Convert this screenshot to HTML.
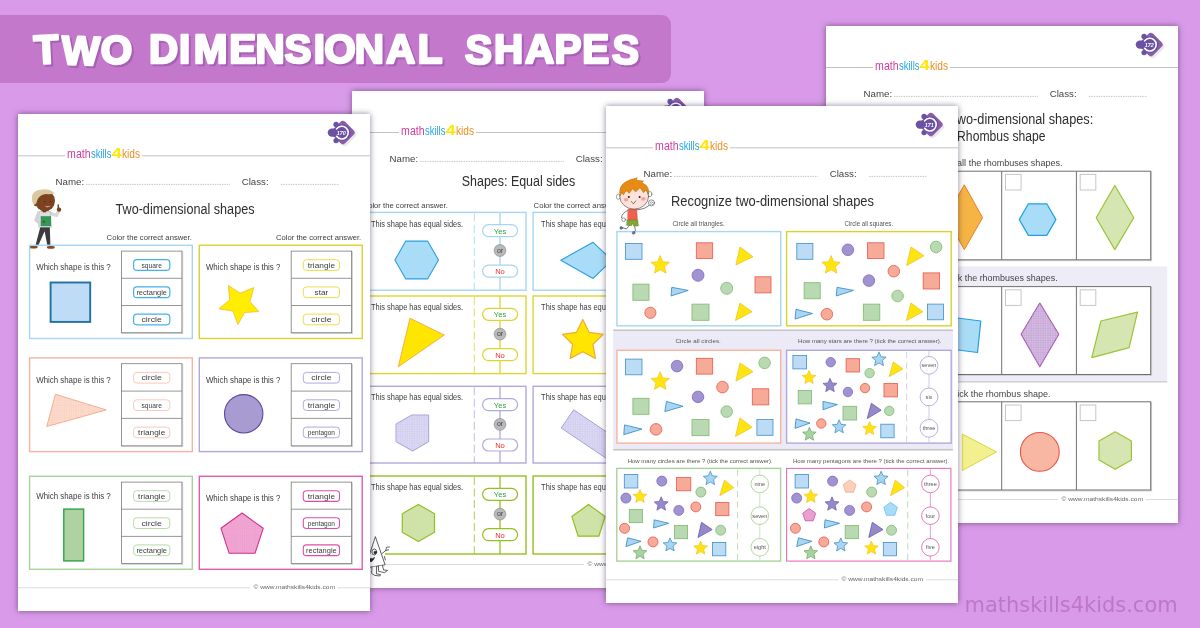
<!DOCTYPE html><html lang="en"><head><meta charset="utf-8"><title>Two Dimensional Shapes</title><style>
html,body{margin:0;padding:0}body{width:1200px;height:628px;overflow:hidden;position:relative;background:#d99be9;font-family:'Liberation Sans', sans-serif}.ban{position:absolute;left:0;top:14.5px;width:671px;height:68px;background:#c478cc;border-radius:0 9px 9px 0}.ttl{position:absolute;left:0;top:0;z-index:6}.pg{position:absolute;width:352px;height:497.3px;background:#fff;overflow:hidden;box-shadow:0 0 6px rgba(35,5,45,.5)}.pg svg{display:block}.wm{position:absolute;left:0;top:0;z-index:7}
</style></head><body>
<svg width="0" height="0" style="position:absolute"><defs>
<pattern id="dotw" width="2.4" height="2.4" patternUnits="userSpaceOnUse"><circle cx=".7" cy=".7" r=".42" fill="#fff" opacity=".8"/></pattern>
<pattern id="dotp" width="2.2" height="2.2" patternUnits="userSpaceOnUse"><circle cx=".6" cy=".6" r=".32" fill="#c8409a" opacity=".55"/></pattern>
</defs></svg>
<div class="ban"></div>
<svg class="ttl" width="700" height="100" viewBox="0 0 700 100" font-family="'Liberation Sans', sans-serif" font-weight="bold" font-size="40.5" stroke-linejoin="round" stroke-linecap="round" text-anchor="middle"><g fill="#fff" stroke="#fff" stroke-width="2.4" style="filter:drop-shadow(2.7px 2.4px 0 #a660b4)"><text x="47.2 80.4 116.4" y="64.1 64.1 64.1" rotate="-3 2 0">TWO</text><text x="163.7 184.7 210.7 242.7 270 298 319.3 340 369.3 400.7 430" y="62.6 62.6 62.6 62.6 62.6 62.6 62.6 62.6 62.6 62.6 62.6" rotate="0 0 0 0 0 0 0 0 0 0 0">DIMENSIONAL</text><text x="478 508.7 539.5 568 595.7 625" y="63.1 63.1 63.1 63.1 63.1 63.1" rotate="3 0 0 0 0 3">SHAPES</text></g></svg>
<div class="pg" style="left:352px;top:91px;z-index:1"><svg width="352" height="497" viewBox="352 91 352 497" font-family="'Liberation Sans', sans-serif"><line x1="352" y1="132.5" x2="399" y2="132.5" stroke="#c2c2c2" stroke-width="1"/><line x1="476" y1="132.5" x2="704" y2="132.5" stroke="#c2c2c2" stroke-width="1"/><text x="401.1" y="135" font-size="13" fill="#d43c9f" textLength="23.5" lengthAdjust="spacingAndGlyphs">math</text><text x="424.9" y="135" font-size="13" fill="#27a6e6" textLength="20.6" lengthAdjust="spacingAndGlyphs">skills</text><text x="445.7" y="135" font-size="14" fill="#ffe600" textLength="9.8" lengthAdjust="spacingAndGlyphs" font-weight="bold">4</text><text x="455.9" y="135" font-size="13" fill="#ea8f22" textLength="18.1" lengthAdjust="spacingAndGlyphs">kids</text><g><rect x="669.3" y="102.2" width="18.4" height="18.4" rx="3.2" fill="#666" opacity=".15" transform="rotate(45 678.5 111.4)"/><rect x="667.7" y="100.4" width="18.4" height="18.4" rx="3.2" fill="#8b5caa" transform="rotate(45 676.9 109.6)"/><circle cx="676.3" cy="109.6" r="8.2" fill="#6a51a3"/><rect x="661.7" y="105.4" width="15" height="8.4" rx="4.2" fill="#6a51a3"/><circle cx="670.1" cy="101.4" r="2.7" fill="#6a51a3"/><circle cx="670.1" cy="117.6" r="2.7" fill="#6a51a3"/><path d="M670.6 105.9 A6.4 6.4 0 1 1 670.6 113.3" fill="none" stroke="#fff" stroke-width="1.6" stroke-linecap="round"/><text x="675.3" y="111.7" font-size="5.4" fill="#fff" font-style="italic" font-weight="bold" text-anchor="middle">171</text></g><text x="389.6" y="161.8" font-size="9" fill="#444" textLength="28.6" lengthAdjust="spacingAndGlyphs">Name:</text><line x1="420" y1="161.4" x2="564" y2="161.4" stroke="#8a8a8a" stroke-width="0.7" stroke-dasharray="0.7 1"/><text x="575.7" y="161.8" font-size="9" fill="#444" textLength="27" lengthAdjust="spacingAndGlyphs">Class:</text><line x1="615" y1="161.4" x2="673" y2="161.4" stroke="#8a8a8a" stroke-width="0.7" stroke-dasharray="0.7 1"/><text x="518.5" y="186.4" font-size="15.2" fill="#2e2e2e" text-anchor="middle" textLength="113.5" lengthAdjust="spacingAndGlyphs">Shapes: Equal sides</text><text x="362.6" y="207.5" font-size="7.5" fill="#3c3c3c" textLength="85.2" lengthAdjust="spacingAndGlyphs">Color the correct answer.</text><text x="533.6" y="207.5" font-size="7.5" fill="#3c3c3c" textLength="85.2" lengthAdjust="spacingAndGlyphs">Color the correct answer.</text><rect x="363" y="212.4" width="163" height="77.8" fill="none" stroke="#a5d6f2" stroke-width="1.4"/><text x="371" y="226.5" font-size="8.6" fill="#3c3c3c" textLength="92" lengthAdjust="spacingAndGlyphs">This shape has equal sides.</text><line x1="474.3" y1="213.4" x2="474.3" y2="290.2" stroke="#a5d6f2" stroke-width="0.8" stroke-dasharray="8 3.5"/><line x1="500" y1="212.4" x2="500" y2="290.2" stroke="#a5d6f2" stroke-width="1.3"/><rect x="482.6" y="224.7" width="35" height="12" fill="#fff" stroke="#a5d6f2" stroke-width="1.2" rx="6"/><text x="500" y="233.6" font-size="7.6" fill="#2f9e3f" text-anchor="middle">Yes</text><rect x="482.6" y="265.1" width="35" height="12" fill="#fff" stroke="#a5d6f2" stroke-width="1.2" rx="6"/><text x="500" y="274" font-size="7.6" fill="#e8302e" text-anchor="middle">No</text><circle cx="500" cy="250.5" r="5.9" fill="#b9b9b9" stroke="#8e8e8e" stroke-width="0.7"/><text x="500" y="252.5" font-size="7" fill="#444" text-anchor="middle">or</text><rect x="533.1" y="212.4" width="163.3" height="77.8" fill="none" stroke="#a5d6f2" stroke-width="1.4"/><text x="541.1" y="226.5" font-size="8.6" fill="#3c3c3c" textLength="92" lengthAdjust="spacingAndGlyphs">This shape has equal sides.</text><line x1="644.4" y1="213.4" x2="644.4" y2="290.2" stroke="#a5d6f2" stroke-width="0.8" stroke-dasharray="8 3.5"/><line x1="670.1" y1="212.4" x2="670.1" y2="290.2" stroke="#a5d6f2" stroke-width="1.3"/><rect x="652.7" y="224.7" width="35" height="12" fill="#fff" stroke="#a5d6f2" stroke-width="1.2" rx="6"/><text x="670.1" y="233.6" font-size="7.6" fill="#2f9e3f" text-anchor="middle">Yes</text><rect x="652.7" y="265.1" width="35" height="12" fill="#fff" stroke="#a5d6f2" stroke-width="1.2" rx="6"/><text x="670.1" y="274" font-size="7.6" fill="#e8302e" text-anchor="middle">No</text><circle cx="670.1" cy="250.5" r="5.9" fill="#b9b9b9" stroke="#8e8e8e" stroke-width="0.7"/><text x="670.1" y="252.5" font-size="7" fill="#444" text-anchor="middle">or</text><rect x="363" y="296" width="163" height="77.6" fill="none" stroke="#dcd630" stroke-width="1.4"/><text x="371" y="310.1" font-size="8.6" fill="#3c3c3c" textLength="92" lengthAdjust="spacingAndGlyphs">This shape has equal sides.</text><line x1="474.3" y1="297" x2="474.3" y2="373.6" stroke="#dcd630" stroke-width="0.8" stroke-dasharray="8 3.5"/><line x1="500" y1="296" x2="500" y2="373.6" stroke="#dcd630" stroke-width="1.3"/><rect x="482.6" y="308.3" width="35" height="12" fill="#fff" stroke="#dcd630" stroke-width="1.2" rx="6"/><text x="500" y="317.2" font-size="7.6" fill="#2f9e3f" text-anchor="middle">Yes</text><rect x="482.6" y="348.7" width="35" height="12" fill="#fff" stroke="#dcd630" stroke-width="1.2" rx="6"/><text x="500" y="357.6" font-size="7.6" fill="#e8302e" text-anchor="middle">No</text><circle cx="500" cy="334.1" r="5.9" fill="#b9b9b9" stroke="#8e8e8e" stroke-width="0.7"/><text x="500" y="336.1" font-size="7" fill="#444" text-anchor="middle">or</text><rect x="533.1" y="296" width="163.3" height="77.6" fill="none" stroke="#dcd630" stroke-width="1.4"/><text x="541.1" y="310.1" font-size="8.6" fill="#3c3c3c" textLength="92" lengthAdjust="spacingAndGlyphs">This shape has equal sides.</text><line x1="644.4" y1="297" x2="644.4" y2="373.6" stroke="#dcd630" stroke-width="0.8" stroke-dasharray="8 3.5"/><line x1="670.1" y1="296" x2="670.1" y2="373.6" stroke="#dcd630" stroke-width="1.3"/><rect x="652.7" y="308.3" width="35" height="12" fill="#fff" stroke="#dcd630" stroke-width="1.2" rx="6"/><text x="670.1" y="317.2" font-size="7.6" fill="#2f9e3f" text-anchor="middle">Yes</text><rect x="652.7" y="348.7" width="35" height="12" fill="#fff" stroke="#dcd630" stroke-width="1.2" rx="6"/><text x="670.1" y="357.6" font-size="7.6" fill="#e8302e" text-anchor="middle">No</text><circle cx="670.1" cy="334.1" r="5.9" fill="#b9b9b9" stroke="#8e8e8e" stroke-width="0.7"/><text x="670.1" y="336.1" font-size="7" fill="#444" text-anchor="middle">or</text><rect x="363" y="386.3" width="163" height="76.7" fill="none" stroke="#b0a9de" stroke-width="1.4"/><text x="371" y="400.4" font-size="8.6" fill="#3c3c3c" textLength="92" lengthAdjust="spacingAndGlyphs">This shape has equal sides.</text><line x1="474.3" y1="387.3" x2="474.3" y2="463" stroke="#b0a9de" stroke-width="0.8" stroke-dasharray="8 3.5"/><line x1="500" y1="386.3" x2="500" y2="463" stroke="#b0a9de" stroke-width="1.3"/><rect x="482.6" y="398.6" width="35" height="12" fill="#fff" stroke="#b0a9de" stroke-width="1.2" rx="6"/><text x="500" y="407.5" font-size="7.6" fill="#2f9e3f" text-anchor="middle">Yes</text><rect x="482.6" y="439" width="35" height="12" fill="#fff" stroke="#b0a9de" stroke-width="1.2" rx="6"/><text x="500" y="447.9" font-size="7.6" fill="#e8302e" text-anchor="middle">No</text><circle cx="500" cy="424.4" r="5.9" fill="#b9b9b9" stroke="#8e8e8e" stroke-width="0.7"/><text x="500" y="426.4" font-size="7" fill="#444" text-anchor="middle">or</text><rect x="533.1" y="386.3" width="163.3" height="76.7" fill="none" stroke="#b0a9de" stroke-width="1.4"/><text x="541.1" y="400.4" font-size="8.6" fill="#3c3c3c" textLength="92" lengthAdjust="spacingAndGlyphs">This shape has equal sides.</text><line x1="644.4" y1="387.3" x2="644.4" y2="463" stroke="#b0a9de" stroke-width="0.8" stroke-dasharray="8 3.5"/><line x1="670.1" y1="386.3" x2="670.1" y2="463" stroke="#b0a9de" stroke-width="1.3"/><rect x="652.7" y="398.6" width="35" height="12" fill="#fff" stroke="#b0a9de" stroke-width="1.2" rx="6"/><text x="670.1" y="407.5" font-size="7.6" fill="#2f9e3f" text-anchor="middle">Yes</text><rect x="652.7" y="439" width="35" height="12" fill="#fff" stroke="#b0a9de" stroke-width="1.2" rx="6"/><text x="670.1" y="447.9" font-size="7.6" fill="#e8302e" text-anchor="middle">No</text><circle cx="670.1" cy="424.4" r="5.9" fill="#b9b9b9" stroke="#8e8e8e" stroke-width="0.7"/><text x="670.1" y="426.4" font-size="7" fill="#444" text-anchor="middle">or</text><rect x="363" y="476" width="163" height="78" fill="none" stroke="#94c11f" stroke-width="1.4"/><text x="371" y="490.1" font-size="8.6" fill="#3c3c3c" textLength="92" lengthAdjust="spacingAndGlyphs">This shape has equal sides.</text><line x1="474.3" y1="477" x2="474.3" y2="554" stroke="#94c11f" stroke-width="0.8" stroke-dasharray="8 3.5"/><line x1="500" y1="476" x2="500" y2="554" stroke="#94c11f" stroke-width="1.3"/><rect x="482.6" y="488.3" width="35" height="12" fill="#fff" stroke="#94c11f" stroke-width="1.2" rx="6"/><text x="500" y="497.2" font-size="7.6" fill="#2f9e3f" text-anchor="middle">Yes</text><rect x="482.6" y="528.7" width="35" height="12" fill="#fff" stroke="#94c11f" stroke-width="1.2" rx="6"/><text x="500" y="537.6" font-size="7.6" fill="#e8302e" text-anchor="middle">No</text><circle cx="500" cy="514.1" r="5.9" fill="#b9b9b9" stroke="#8e8e8e" stroke-width="0.7"/><text x="500" y="516.1" font-size="7" fill="#444" text-anchor="middle">or</text><rect x="533.1" y="476" width="163.3" height="78" fill="none" stroke="#94c11f" stroke-width="1.4"/><text x="541.1" y="490.1" font-size="8.6" fill="#3c3c3c" textLength="92" lengthAdjust="spacingAndGlyphs">This shape has equal sides.</text><line x1="644.4" y1="477" x2="644.4" y2="554" stroke="#94c11f" stroke-width="0.8" stroke-dasharray="8 3.5"/><line x1="670.1" y1="476" x2="670.1" y2="554" stroke="#94c11f" stroke-width="1.3"/><rect x="652.7" y="488.3" width="35" height="12" fill="#fff" stroke="#94c11f" stroke-width="1.2" rx="6"/><text x="670.1" y="497.2" font-size="7.6" fill="#2f9e3f" text-anchor="middle">Yes</text><rect x="652.7" y="528.7" width="35" height="12" fill="#fff" stroke="#94c11f" stroke-width="1.2" rx="6"/><text x="670.1" y="537.6" font-size="7.6" fill="#e8302e" text-anchor="middle">No</text><circle cx="670.1" cy="514.1" r="5.9" fill="#b9b9b9" stroke="#8e8e8e" stroke-width="0.7"/><text x="670.1" y="516.1" font-size="7" fill="#444" text-anchor="middle">or</text><polygon points="438.5,260 427.6,278.9 405.8,278.9 394.9,260 405.8,241.1 427.6,241.1" fill="#a9dcf7" stroke="#2b9fe0" stroke-width="1.1" stroke-linejoin="round"/><polygon points="560.8,260.2 593.1,242.3 612,260.2 593.1,278.4" fill="#a9dcf7" stroke="#2b9fe0" stroke-width="1.1" stroke-linejoin="round"/><polygon points="410,318.3 444.3,335 398.3,366.7" fill="#ffe600" stroke="#f2a93a" stroke-width="0.9" stroke-linejoin="round"/><polygon points="582.8,319.5 589.1,332.3 603.2,334.4 593,344.3 595.4,358.4 582.8,351.8 570.2,358.4 572.6,344.3 562.4,334.4 576.5,332.3" fill="#ffe600" stroke="#f2a93a" stroke-width="1.2" stroke-linejoin="round"/><polygon points="411.7,415 428.7,415 428.7,441.7 412.7,451 396,441.7 396,424" fill="#d3cff0" stroke="#9d94d4" stroke-width="0.9" stroke-linejoin="round"/><polygon points="411.7,415 428.7,415 428.7,441.7 412.7,451 396,441.7 396,424" fill="url(#dotw)" stroke="none" stroke-width="0" stroke-linejoin="round"/><polygon points="573.7,409.8 621.8,442.2 609.3,460.4 561.2,428" fill="#d3cff0" stroke="#9d94d4" stroke-width="0.9" stroke-linejoin="round"/><polygon points="573.7,409.8 621.8,442.2 609.3,460.4 561.2,428" fill="url(#dotw)" stroke="none" stroke-width="0" stroke-linejoin="round"/><polygon points="418.4,504.4 434.5,513.7 434.5,532.3 418.4,541.6 402.3,532.3 402.3,513.7" fill="#cfe3a9" stroke="#8fc01f" stroke-width="1.2" stroke-linejoin="round"/><polygon points="588.5,504.5 605.1,516.6 598.8,536.2 578.2,536.2 571.9,516.6" fill="#cfe3a9" stroke="#8fc01f" stroke-width="1.2" stroke-linejoin="round"/><line x1="352" y1="564.5" x2="584" y2="564.5" stroke="#dcdcdc" stroke-width="1"/><line x1="672" y1="564.5" x2="704" y2="564.5" stroke="#dcdcdc" stroke-width="1"/><text x="587.5" y="565.9" font-size="6" fill="#666" textLength="81.5" lengthAdjust="spacingAndGlyphs">© www.mathskills4kids.com</text><rect x="364" y="548" width="21" height="22" fill="#fff"/><g fill="#fff" stroke="#2b2b2b" stroke-width=".75" stroke-linejoin="round" stroke-linecap="round"><path d="M375.5 537 L385.1 564.8 L365.5 568 Z"/><ellipse cx="374.3" cy="552" rx="2.4" ry="3"/><ellipse cx="375" cy="552.6" rx="1" ry="1.4" fill="#2b2b2b"/><path d="M370 558.5 Q372.5 559.5 374.5 557.5 Q372.5 562.5 370 561.5 Z" fill="#2b2b2b"/><path d="M382.2 553.4 L385.6 550.6 L388.6 549.8 M385.6 550.6 L386.6 547.2 L389.4 547 M384.4 556.4 L385.4 560" fill="none"/><path d="M372 567 L371.6 573.4 L374.8 575.4 L379.8 576 L380.6 574.6 L376.4 573.8 L376.6 566.4" /><path d="M378.4 566 L378.6 571.4 L384.6 572.6 L387.6 570.4 L383.6 570 L382.4 565.4"/></g></svg></div>
<div class="pg" style="left:826.2px;top:26px;z-index:2"><svg width="352" height="497" viewBox="826.2 26 352 497" font-family="'Liberation Sans', sans-serif"><line x1="826.2" y1="67.5" x2="873.2" y2="67.5" stroke="#c2c2c2" stroke-width="1"/><line x1="950.2" y1="67.5" x2="1178.2" y2="67.5" stroke="#c2c2c2" stroke-width="1"/><text x="875.3" y="70" font-size="13" fill="#d43c9f" textLength="23.5" lengthAdjust="spacingAndGlyphs">math</text><text x="899.1" y="70" font-size="13" fill="#27a6e6" textLength="20.6" lengthAdjust="spacingAndGlyphs">skills</text><text x="919.9" y="70" font-size="14" fill="#ffe600" textLength="9.8" lengthAdjust="spacingAndGlyphs" font-weight="bold">4</text><text x="930.1" y="70" font-size="13" fill="#ea8f22" textLength="18.1" lengthAdjust="spacingAndGlyphs">kids</text><g><rect x="1143.5" y="37.2" width="18.4" height="18.4" rx="3.2" fill="#666" opacity=".15" transform="rotate(45 1152.7 46.4)"/><rect x="1141.9" y="35.4" width="18.4" height="18.4" rx="3.2" fill="#8b5caa" transform="rotate(45 1151.1 44.6)"/><circle cx="1150.5" cy="44.6" r="8.2" fill="#6a51a3"/><rect x="1135.9" y="40.4" width="15" height="8.4" rx="4.2" fill="#6a51a3"/><circle cx="1144.3" cy="36.4" r="2.7" fill="#6a51a3"/><circle cx="1144.3" cy="52.6" r="2.7" fill="#6a51a3"/><path d="M1144.8 40.9 A6.4 6.4 0 1 1 1144.8 48.3" fill="none" stroke="#fff" stroke-width="1.6" stroke-linecap="round"/><text x="1149.5" y="46.7" font-size="5.4" fill="#fff" font-style="italic" font-weight="bold" text-anchor="middle">172</text></g><text x="863.8" y="96.8" font-size="9" fill="#444" textLength="28.6" lengthAdjust="spacingAndGlyphs">Name:</text><line x1="894.2" y1="96.4" x2="1038.2" y2="96.4" stroke="#8a8a8a" stroke-width="0.7" stroke-dasharray="0.7 1"/><text x="1049.9" y="96.8" font-size="9" fill="#444" textLength="27" lengthAdjust="spacingAndGlyphs">Class:</text><line x1="1089.2" y1="96.4" x2="1147.2" y2="96.4" stroke="#8a8a8a" stroke-width="0.7" stroke-dasharray="0.7 1"/><text x="950" y="123.8" font-size="15.2" fill="#2e2e2e" textLength="143.4" lengthAdjust="spacingAndGlyphs">Two-dimensional shapes:</text><text x="957.3" y="141.4" font-size="15.2" fill="#2e2e2e" textLength="88.5" lengthAdjust="spacingAndGlyphs">Rhombus shape</text><text x="928.7" y="166.1" font-size="9" fill="#444" textLength="134" lengthAdjust="spacingAndGlyphs">1. Tick all the rhombuses shapes.</text><rect x="838" y="266.4" width="329.5" height="115.5" fill="#eeecf6" stroke="none" stroke-width="1"/><line x1="838" y1="381.9" x2="1167.5" y2="381.9" stroke="#c9c9c9" stroke-width="1.4"/><text x="936.6" y="281" font-size="9" fill="#444" textLength="121.3" lengthAdjust="spacingAndGlyphs">2. Tick the rhombuses shapes.</text><text x="942.4" y="396.6" font-size="9" fill="#444" textLength="108.3" lengthAdjust="spacingAndGlyphs">3. Tick the rhombus shape.</text><rect x="853.8" y="172.1" width="298" height="88.6" fill="none" stroke="#d0d0d0" stroke-width="1"/><rect x="852.9" y="171.2" width="298" height="88.6" fill="#fff" stroke="#707070" stroke-width="1"/><line x1="927.4" y1="171.2" x2="927.4" y2="259.8" stroke="#707070" stroke-width="1"/><line x1="1001.9" y1="171.2" x2="1001.9" y2="259.8" stroke="#707070" stroke-width="1"/><line x1="1076.6" y1="171.2" x2="1076.6" y2="259.8" stroke="#707070" stroke-width="1"/><rect x="856.7" y="174.4" width="15.6" height="15.6" fill="#fff" stroke="#c6c6c6" stroke-width="1"/><rect x="931.2" y="174.4" width="15.6" height="15.6" fill="#fff" stroke="#c6c6c6" stroke-width="1"/><rect x="1005.7" y="174.4" width="15.6" height="15.6" fill="#fff" stroke="#c6c6c6" stroke-width="1"/><rect x="1080.4" y="174.4" width="15.6" height="15.6" fill="#fff" stroke="#c6c6c6" stroke-width="1"/><rect x="853.8" y="287.5" width="298" height="87.9" fill="none" stroke="#d0d0d0" stroke-width="1"/><rect x="852.9" y="286.6" width="298" height="87.9" fill="#fff" stroke="#707070" stroke-width="1"/><line x1="927.4" y1="286.6" x2="927.4" y2="374.5" stroke="#707070" stroke-width="1"/><line x1="1001.9" y1="286.6" x2="1001.9" y2="374.5" stroke="#707070" stroke-width="1"/><line x1="1076.6" y1="286.6" x2="1076.6" y2="374.5" stroke="#707070" stroke-width="1"/><rect x="856.7" y="289.8" width="15.6" height="15.6" fill="#fff" stroke="#c6c6c6" stroke-width="1"/><rect x="931.2" y="289.8" width="15.6" height="15.6" fill="#fff" stroke="#c6c6c6" stroke-width="1"/><rect x="1005.7" y="289.8" width="15.6" height="15.6" fill="#fff" stroke="#c6c6c6" stroke-width="1"/><rect x="1080.4" y="289.8" width="15.6" height="15.6" fill="#fff" stroke="#c6c6c6" stroke-width="1"/><rect x="853.8" y="402.7" width="298" height="88.2" fill="none" stroke="#d0d0d0" stroke-width="1"/><rect x="852.9" y="401.8" width="298" height="88.2" fill="#fff" stroke="#707070" stroke-width="1"/><line x1="927.4" y1="401.8" x2="927.4" y2="490" stroke="#707070" stroke-width="1"/><line x1="1001.9" y1="401.8" x2="1001.9" y2="490" stroke="#707070" stroke-width="1"/><line x1="1076.6" y1="401.8" x2="1076.6" y2="490" stroke="#707070" stroke-width="1"/><rect x="856.7" y="405" width="15.6" height="15.6" fill="#fff" stroke="#c6c6c6" stroke-width="1"/><rect x="931.2" y="405" width="15.6" height="15.6" fill="#fff" stroke="#c6c6c6" stroke-width="1"/><rect x="1005.7" y="405" width="15.6" height="15.6" fill="#fff" stroke="#c6c6c6" stroke-width="1"/><rect x="1080.4" y="405" width="15.6" height="15.6" fill="#fff" stroke="#c6c6c6" stroke-width="1"/><polygon points="964.5,184.8 982.8,217.7 964.5,249.6 946.2,217.7" fill="#f6b444" stroke="#e5822a" stroke-width="1" stroke-linejoin="round"/><polygon points="1056.1,219.6 1047,235.4 1028.6,235.4 1019.5,219.6 1028.6,203.8 1047,203.8" fill="#a9dcf7" stroke="#22a0e2" stroke-width="1.2" stroke-linejoin="round"/><polygon points="1115,185.5 1134,217.7 1115,249.6 1096.4,217.7" fill="#d6e6b3" stroke="#9bc335" stroke-width="1.2" stroke-linejoin="round"/><polygon points="950,317 981,321 977.7,352.5 946.5,348.5" fill="#a9dcf7" stroke="#22a0e2" stroke-width="1.2" stroke-linejoin="round"/><polygon points="1040,303 1059,334.2 1040,366.8 1021.3,334.2" fill="#c9abd9" stroke="#a455b5" stroke-width="1.1" stroke-linejoin="round"/><polygon points="1040,303 1059,334.2 1040,366.8 1021.3,334.2" fill="url(#dotw)" stroke="none" stroke-width="0" stroke-linejoin="round"/><polygon points="1101.1,321 1137.7,312.2 1129.3,347.7 1092,357.6" fill="#d6e6b3" stroke="#9bc335" stroke-width="1.2" stroke-linejoin="round"/><polygon points="962.5,434 996.7,451.9 962.5,470.5" fill="#f3f08f" stroke="#dcd43f" stroke-width="1" stroke-linejoin="round"/><circle cx="1040" cy="451.9" r="19.4" fill="#f7b7a2" stroke="#e9584a" stroke-width="1.1"/><polygon points="1115.4,431.8 1131.6,441.1 1131.6,459.9 1115.4,469.2 1099.2,459.9 1099.2,441.1" fill="#d6e6b3" stroke="#9bc335" stroke-width="1.2" stroke-linejoin="round"/><line x1="826.2" y1="499.5" x2="1058.2" y2="499.5" stroke="#dcdcdc" stroke-width="1"/><line x1="1146.2" y1="499.5" x2="1178.2" y2="499.5" stroke="#dcdcdc" stroke-width="1"/><text x="1061.7" y="500.9" font-size="6" fill="#666" textLength="81.5" lengthAdjust="spacingAndGlyphs">© www.mathskills4kids.com</text></svg></div>
<div class="pg" style="left:18px;top:113.7px;z-index:3"><svg width="352" height="497" viewBox="18 113.7 352 497" font-family="'Liberation Sans', sans-serif"><line x1="18" y1="155.5" x2="65" y2="155.5" stroke="#c2c2c2" stroke-width="1"/><line x1="142" y1="155.5" x2="370" y2="155.5" stroke="#c2c2c2" stroke-width="1"/><text x="67.1" y="158" font-size="13" fill="#d43c9f" textLength="23.5" lengthAdjust="spacingAndGlyphs">math</text><text x="90.9" y="158" font-size="13" fill="#27a6e6" textLength="20.6" lengthAdjust="spacingAndGlyphs">skills</text><text x="111.7" y="158" font-size="14" fill="#ffe600" textLength="9.8" lengthAdjust="spacingAndGlyphs" font-weight="bold">4</text><text x="121.9" y="158" font-size="13" fill="#ea8f22" textLength="18.1" lengthAdjust="spacingAndGlyphs">kids</text><g><rect x="335.3" y="124.9" width="18.4" height="18.4" rx="3.2" fill="#666" opacity=".15" transform="rotate(45 344.5 134.1)"/><rect x="333.7" y="123.1" width="18.4" height="18.4" rx="3.2" fill="#8b5caa" transform="rotate(45 342.9 132.3)"/><circle cx="342.3" cy="132.3" r="8.2" fill="#6a51a3"/><rect x="327.7" y="128.1" width="15" height="8.4" rx="4.2" fill="#6a51a3"/><circle cx="336.1" cy="124.1" r="2.7" fill="#6a51a3"/><circle cx="336.1" cy="140.3" r="2.7" fill="#6a51a3"/><path d="M336.6 128.6 A6.4 6.4 0 1 1 336.6 136" fill="none" stroke="#fff" stroke-width="1.6" stroke-linecap="round"/><text x="341.3" y="134.4" font-size="5.4" fill="#fff" font-style="italic" font-weight="bold" text-anchor="middle">170</text></g><text x="55.6" y="184.5" font-size="9" fill="#444" textLength="28.6" lengthAdjust="spacingAndGlyphs">Name:</text><line x1="86" y1="184.1" x2="230" y2="184.1" stroke="#8a8a8a" stroke-width="0.7" stroke-dasharray="0.7 1"/><text x="241.7" y="184.5" font-size="9" fill="#444" textLength="27" lengthAdjust="spacingAndGlyphs">Class:</text><line x1="281" y1="184.1" x2="339" y2="184.1" stroke="#8a8a8a" stroke-width="0.7" stroke-dasharray="0.7 1"/><g><path d="M40.5 226 L35.4 245.5 L38.2 245.5 L44.6 231 L47.4 245.5 L50.4 245.5 L49.8 226 Z" fill="#3b3b3f"/><ellipse cx="33.4" cy="246.6" rx="4.3" ry="1.5" fill="#8a4a1f"/><ellipse cx="50.8" cy="246.9" rx="4" ry="1.5" fill="#8a4a1f"/><path d="M48.5 212.5 L56.5 215 L59.5 209.5" fill="none" stroke="#d9d9dc" stroke-width="3.4" stroke-linecap="round" stroke-linejoin="round"/><circle cx="59" cy="209.3" r="2.2" fill="#7c431f"/><path d="M58.4 208.5 L58.2 204.8" stroke="#7c431f" stroke-width="1.5" stroke-linecap="round"/><path d="M38.5 211.5 Q44 209.5 50.5 211.5 L51.5 227 L38.8 227 Z" fill="#dedee2" stroke="#9a9aa0" stroke-width=".4"/><path d="M38.6 212.5 L35.8 220 L40.5 223.5" fill="none" stroke="#d2d2d6" stroke-width="3" stroke-linecap="round" stroke-linejoin="round"/><rect x="41" y="216.2" width="9.8" height="9.4" fill="#2f9b58" stroke="#1f7a42" stroke-width=".4"/><circle cx="44" cy="221.5" r="1.2" fill="#7c431f"/><rect x="42.6" y="207.5" width="3.6" height="4.5" fill="#6e3a1a"/><ellipse cx="45" cy="200.5" rx="10" ry="10.4" fill="#7c431f"/><ellipse cx="35.6" cy="203.6" rx="1.8" ry="2.4" fill="#7c431f"/><path d="M32.6 202.5 Q29.5 191 40 189.5 Q49 187.5 54.8 193 Q50 194.5 46.5 193.6 Q39.5 194 37.4 199.5 Q36.6 203.5 35 204.5 Q33.2 204.5 32.6 202.5 Z" fill="#d9c9a0"/><circle cx="44.6" cy="201.5" r=".55" fill="#2a1608"/><circle cx="50.4" cy="201.3" r=".55" fill="#2a1608"/><path d="M44.6 205.6 Q47.6 208.4 51 205.2 Q47.8 206.4 44.6 205.6Z" fill="#fff" stroke="#c03030" stroke-width=".4"/></g><text x="185" y="214" font-size="15.2" fill="#2e2e2e" text-anchor="middle" textLength="139" lengthAdjust="spacingAndGlyphs">Two-dimensional shapes</text><text x="106.6" y="239.7" font-size="7.5" fill="#3c3c3c" textLength="85.2" lengthAdjust="spacingAndGlyphs">Color the correct answer.</text><text x="276" y="239.7" font-size="7.5" fill="#3c3c3c" textLength="85.2" lengthAdjust="spacingAndGlyphs">Color the correct answer.</text><rect x="29.6" y="245" width="162.7" height="93.2" fill="none" stroke="#a5d6f2" stroke-width="1.4"/><text x="36.2" y="269.8" font-size="9" fill="#3c3c3c" textLength="74.5" lengthAdjust="spacingAndGlyphs">Which shape is this ?</text><rect x="122.3" y="251.6" width="60.4" height="81.6" fill="none" stroke="#cfcfcf" stroke-width="1"/><rect x="121.5" y="250.8" width="60.4" height="81.6" fill="#fff" stroke="#7c7c7c" stroke-width="0.8"/><line x1="121.5" y1="278" x2="181.9" y2="278" stroke="#7c7c7c" stroke-width="0.8"/><line x1="121.5" y1="305.2" x2="181.9" y2="305.2" stroke="#7c7c7c" stroke-width="0.8"/><rect x="133.6" y="259.4" width="36.2" height="10.7" fill="#fff" stroke="#45b2ea" stroke-width="1.2" rx="3.2"/><text x="151.7" y="267.4" font-size="7.2" fill="#3c3c3c" text-anchor="middle" textLength="20.4" lengthAdjust="spacingAndGlyphs">square</text><rect x="133.6" y="286.6" width="36.2" height="10.7" fill="#fff" stroke="#45b2ea" stroke-width="1.2" rx="3.2"/><text x="151.7" y="294.6" font-size="7.2" fill="#3c3c3c" text-anchor="middle" textLength="30.6" lengthAdjust="spacingAndGlyphs">rectangle</text><rect x="133.6" y="313.8" width="36.2" height="10.7" fill="#fff" stroke="#45b2ea" stroke-width="1.2" rx="3.2"/><text x="151.7" y="321.8" font-size="7.2" fill="#3c3c3c" text-anchor="middle" textLength="20.4" lengthAdjust="spacingAndGlyphs">circle</text><rect x="199.3" y="245" width="162.9" height="93.2" fill="none" stroke="#d9d22e" stroke-width="1.4"/><text x="205.9" y="269.8" font-size="9" fill="#3c3c3c" textLength="74.5" lengthAdjust="spacingAndGlyphs">Which shape is this ?</text><rect x="292" y="251.6" width="60.4" height="81.6" fill="none" stroke="#cfcfcf" stroke-width="1"/><rect x="291.2" y="250.8" width="60.4" height="81.6" fill="#fff" stroke="#7c7c7c" stroke-width="0.8"/><line x1="291.2" y1="278" x2="351.6" y2="278" stroke="#7c7c7c" stroke-width="0.8"/><line x1="291.2" y1="305.2" x2="351.6" y2="305.2" stroke="#7c7c7c" stroke-width="0.8"/><rect x="303.3" y="259.4" width="36.2" height="10.7" fill="#fff" stroke="#e9df4a" stroke-width="1" rx="3.2"/><text x="321.4" y="267.4" font-size="7.2" fill="#3c3c3c" text-anchor="middle" textLength="27.2" lengthAdjust="spacingAndGlyphs">triangle</text><rect x="303.3" y="286.6" width="36.2" height="10.7" fill="#fff" stroke="#e9df4a" stroke-width="1" rx="3.2"/><text x="321.4" y="294.6" font-size="7.2" fill="#3c3c3c" text-anchor="middle" textLength="13.6" lengthAdjust="spacingAndGlyphs">star</text><rect x="303.3" y="313.8" width="36.2" height="10.7" fill="#fff" stroke="#e9df4a" stroke-width="1" rx="3.2"/><text x="321.4" y="321.8" font-size="7.2" fill="#3c3c3c" text-anchor="middle" textLength="20.4" lengthAdjust="spacingAndGlyphs">circle</text><rect x="29.6" y="357.6" width="162.7" height="93.7" fill="none" stroke="#f6b59e" stroke-width="1.4"/><text x="36.2" y="382.4" font-size="9" fill="#3c3c3c" textLength="74.5" lengthAdjust="spacingAndGlyphs">Which shape is this ?</text><rect x="122.3" y="364.2" width="60.4" height="82.1" fill="none" stroke="#cfcfcf" stroke-width="1"/><rect x="121.5" y="363.4" width="60.4" height="82.1" fill="#fff" stroke="#7c7c7c" stroke-width="0.8"/><line x1="121.5" y1="390.8" x2="181.9" y2="390.8" stroke="#7c7c7c" stroke-width="0.8"/><line x1="121.5" y1="418.1" x2="181.9" y2="418.1" stroke="#7c7c7c" stroke-width="0.8"/><rect x="133.6" y="372.1" width="36.2" height="10.7" fill="#fff" stroke="#f8bda9" stroke-width="0.8" rx="3.2"/><text x="151.7" y="380.1" font-size="7.2" fill="#3c3c3c" text-anchor="middle" textLength="20.4" lengthAdjust="spacingAndGlyphs">circle</text><rect x="133.6" y="399.5" width="36.2" height="10.7" fill="#fff" stroke="#f8bda9" stroke-width="0.8" rx="3.2"/><text x="151.7" y="407.4" font-size="7.2" fill="#3c3c3c" text-anchor="middle" textLength="20.4" lengthAdjust="spacingAndGlyphs">square</text><rect x="133.6" y="426.8" width="36.2" height="10.7" fill="#fff" stroke="#f8bda9" stroke-width="0.8" rx="3.2"/><text x="151.7" y="434.8" font-size="7.2" fill="#3c3c3c" text-anchor="middle" textLength="27.2" lengthAdjust="spacingAndGlyphs">triangle</text><rect x="199.3" y="357.6" width="162.9" height="93.7" fill="none" stroke="#b0a9de" stroke-width="1.4"/><text x="205.9" y="382.4" font-size="9" fill="#3c3c3c" textLength="74.5" lengthAdjust="spacingAndGlyphs">Which shape is this ?</text><rect x="292" y="364.2" width="60.4" height="82.1" fill="none" stroke="#cfcfcf" stroke-width="1"/><rect x="291.2" y="363.4" width="60.4" height="82.1" fill="#fff" stroke="#7c7c7c" stroke-width="0.8"/><line x1="291.2" y1="390.8" x2="351.6" y2="390.8" stroke="#7c7c7c" stroke-width="0.8"/><line x1="291.2" y1="418.1" x2="351.6" y2="418.1" stroke="#7c7c7c" stroke-width="0.8"/><rect x="303.3" y="372.1" width="36.2" height="10.7" fill="#fff" stroke="#a9a1dc" stroke-width="0.9" rx="3.2"/><text x="321.4" y="380.1" font-size="7.2" fill="#3c3c3c" text-anchor="middle" textLength="20.4" lengthAdjust="spacingAndGlyphs">circle</text><rect x="303.3" y="399.5" width="36.2" height="10.7" fill="#fff" stroke="#a9a1dc" stroke-width="0.9" rx="3.2"/><text x="321.4" y="407.4" font-size="7.2" fill="#3c3c3c" text-anchor="middle" textLength="27.2" lengthAdjust="spacingAndGlyphs">triangle</text><rect x="303.3" y="426.8" width="36.2" height="10.7" fill="#fff" stroke="#a9a1dc" stroke-width="0.9" rx="3.2"/><text x="321.4" y="434.8" font-size="7.2" fill="#3c3c3c" text-anchor="middle" textLength="27.2" lengthAdjust="spacingAndGlyphs">pentagon</text><rect x="29.6" y="476" width="162.7" height="93" fill="none" stroke="#a9d29a" stroke-width="1.4"/><text x="36.2" y="498.8" font-size="9" fill="#3c3c3c" textLength="74.5" lengthAdjust="spacingAndGlyphs">Which shape is this ?</text><rect x="122.3" y="482.6" width="60.4" height="81.4" fill="none" stroke="#cfcfcf" stroke-width="1"/><rect x="121.5" y="481.8" width="60.4" height="81.4" fill="#fff" stroke="#7c7c7c" stroke-width="0.8"/><line x1="121.5" y1="508.9" x2="181.9" y2="508.9" stroke="#7c7c7c" stroke-width="0.8"/><line x1="121.5" y1="536.1" x2="181.9" y2="536.1" stroke="#7c7c7c" stroke-width="0.8"/><rect x="133.6" y="490.4" width="36.2" height="10.7" fill="#fff" stroke="#a3d296" stroke-width="0.8" rx="3.2"/><text x="151.7" y="498.4" font-size="7.2" fill="#3c3c3c" text-anchor="middle" textLength="27.2" lengthAdjust="spacingAndGlyphs">triangle</text><rect x="133.6" y="517.5" width="36.2" height="10.7" fill="#fff" stroke="#a3d296" stroke-width="0.8" rx="3.2"/><text x="151.7" y="525.5" font-size="7.2" fill="#3c3c3c" text-anchor="middle" textLength="20.4" lengthAdjust="spacingAndGlyphs">circle</text><rect x="133.6" y="544.6" width="36.2" height="10.7" fill="#fff" stroke="#a3d296" stroke-width="0.8" rx="3.2"/><text x="151.7" y="552.6" font-size="7.2" fill="#3c3c3c" text-anchor="middle" textLength="30.6" lengthAdjust="spacingAndGlyphs">rectangle</text><rect x="199.3" y="476" width="162.9" height="93" fill="none" stroke="#e05aae" stroke-width="1.4"/><text x="205.9" y="500.8" font-size="9" fill="#3c3c3c" textLength="74.5" lengthAdjust="spacingAndGlyphs">Which shape is this ?</text><rect x="292" y="482.6" width="60.4" height="81.4" fill="none" stroke="#cfcfcf" stroke-width="1"/><rect x="291.2" y="481.8" width="60.4" height="81.4" fill="#fff" stroke="#7c7c7c" stroke-width="0.8"/><line x1="291.2" y1="508.9" x2="351.6" y2="508.9" stroke="#7c7c7c" stroke-width="0.8"/><line x1="291.2" y1="536.1" x2="351.6" y2="536.1" stroke="#7c7c7c" stroke-width="0.8"/><rect x="303.3" y="490.4" width="36.2" height="10.7" fill="#fff" stroke="#dd4fa6" stroke-width="1.1" rx="3.2"/><text x="321.4" y="498.4" font-size="7.2" fill="#3c3c3c" text-anchor="middle" textLength="27.2" lengthAdjust="spacingAndGlyphs">triangle</text><rect x="303.3" y="517.5" width="36.2" height="10.7" fill="#fff" stroke="#dd4fa6" stroke-width="1.1" rx="3.2"/><text x="321.4" y="525.5" font-size="7.2" fill="#3c3c3c" text-anchor="middle" textLength="27.2" lengthAdjust="spacingAndGlyphs">pentagon</text><rect x="303.3" y="544.6" width="36.2" height="10.7" fill="#fff" stroke="#dd4fa6" stroke-width="1.1" rx="3.2"/><text x="321.4" y="552.6" font-size="7.2" fill="#3c3c3c" text-anchor="middle" textLength="30.6" lengthAdjust="spacingAndGlyphs">rectangle</text><rect x="50.6" y="282.2" width="39.6" height="39.4" fill="#bedcf6" stroke="#22709f" stroke-width="1.9"/><polygon points="228.4,285.1 240.1,292.9 253.8,287.3 250,301.2 258.8,311.3 244.6,312.2 237.9,324.3 232.9,310.7 219,308.5 229.6,299.6" fill="#ffee00" stroke="#f7b733" stroke-width="0.8" stroke-linejoin="round"/><polygon points="55.4,394 106.2,409.6 46.8,426.2" fill="#fbd3c2" stroke="#f2a386" stroke-width="0.9" stroke-linejoin="round"/><polygon points="55.4,394 106.2,409.6 46.8,426.2" fill="url(#dotw)" stroke="none" stroke-width="0" stroke-linejoin="round"/><circle cx="243.7" cy="413.5" r="19.2" fill="#a79bd2" stroke="#5a489f" stroke-width="1.1"/><rect x="63.8" y="508.8" width="19.8" height="51.8" fill="#afd2a2" stroke="#2fa24a" stroke-width="1.4"/><polygon points="242.1,512.7 263.2,528 255.1,552.9 229.1,552.9 221,528" fill="#f0a5d2" stroke="#d02f92" stroke-width="1.1" stroke-linejoin="round"/><polygon points="242.1,512.7 263.2,528 255.1,552.9 229.1,552.9 221,528" fill="url(#dotp)" stroke="none" stroke-width="0" stroke-linejoin="round"/><line x1="18" y1="587.5" x2="250" y2="587.5" stroke="#dcdcdc" stroke-width="1"/><line x1="338" y1="587.5" x2="370" y2="587.5" stroke="#dcdcdc" stroke-width="1"/><text x="253.5" y="588.9" font-size="6" fill="#666" textLength="81.5" lengthAdjust="spacingAndGlyphs">© www.mathskills4kids.com</text></svg></div>
<div class="pg" style="left:606px;top:105.7px;z-index:4"><svg width="352" height="497" viewBox="606 105.7 352 497" font-family="'Liberation Sans', sans-serif"><line x1="606" y1="147.5" x2="653" y2="147.5" stroke="#c2c2c2" stroke-width="1"/><line x1="730" y1="147.5" x2="958" y2="147.5" stroke="#c2c2c2" stroke-width="1"/><text x="655.1" y="150" font-size="13" fill="#d43c9f" textLength="23.5" lengthAdjust="spacingAndGlyphs">math</text><text x="678.9" y="150" font-size="13" fill="#27a6e6" textLength="20.6" lengthAdjust="spacingAndGlyphs">skills</text><text x="699.7" y="150" font-size="14" fill="#ffe600" textLength="9.8" lengthAdjust="spacingAndGlyphs" font-weight="bold">4</text><text x="709.9" y="150" font-size="13" fill="#ea8f22" textLength="18.1" lengthAdjust="spacingAndGlyphs">kids</text><g><rect x="923.3" y="116.9" width="18.4" height="18.4" rx="3.2" fill="#666" opacity=".15" transform="rotate(45 932.5 126.1)"/><rect x="921.7" y="115.1" width="18.4" height="18.4" rx="3.2" fill="#8b5caa" transform="rotate(45 930.9 124.3)"/><circle cx="930.3" cy="124.3" r="8.2" fill="#6a51a3"/><rect x="915.7" y="120.1" width="15" height="8.4" rx="4.2" fill="#6a51a3"/><circle cx="924.1" cy="116.1" r="2.7" fill="#6a51a3"/><circle cx="924.1" cy="132.3" r="2.7" fill="#6a51a3"/><path d="M924.6 120.6 A6.4 6.4 0 1 1 924.6 128" fill="none" stroke="#fff" stroke-width="1.6" stroke-linecap="round"/><text x="929.3" y="126.4" font-size="5.4" fill="#fff" font-style="italic" font-weight="bold" text-anchor="middle">171</text></g><text x="643.6" y="176.5" font-size="9" fill="#444" textLength="28.6" lengthAdjust="spacingAndGlyphs">Name:</text><line x1="674" y1="176.1" x2="818" y2="176.1" stroke="#8a8a8a" stroke-width="0.7" stroke-dasharray="0.7 1"/><text x="829.7" y="176.5" font-size="9" fill="#444" textLength="27" lengthAdjust="spacingAndGlyphs">Class:</text><line x1="869" y1="176.1" x2="927" y2="176.1" stroke="#8a8a8a" stroke-width="0.7" stroke-dasharray="0.7 1"/><text x="671" y="205.8" font-size="15.2" fill="#2e2e2e" textLength="203" lengthAdjust="spacingAndGlyphs">Recognize two-dimensional shapes</text><text x="672.4" y="225.7" font-size="6.8" fill="#555" textLength="52.4" lengthAdjust="spacingAndGlyphs">Circle all triangles.</text><text x="844.4" y="225.7" font-size="6.8" fill="#555" textLength="48.7" lengthAdjust="spacingAndGlyphs">Circle all squares.</text><rect x="613.2" y="330" width="339.8" height="119.5" fill="#eceaf7" stroke="none" stroke-width="1"/><line x1="613.2" y1="330" x2="953" y2="330" stroke="#c4c4c4" stroke-width="1.6"/><line x1="613.2" y1="449.5" x2="953" y2="449.5" stroke="#c4c4c4" stroke-width="1.6"/><text x="675.6" y="343.2" font-size="6.2" fill="#555" textLength="45.2" lengthAdjust="spacingAndGlyphs">Circle all circles.</text><text x="798" y="343.1" font-size="5.8" fill="#555" textLength="143.4" lengthAdjust="spacingAndGlyphs">How many stars are there ? (tick the correct answer).</text><text x="627.7" y="462.4" font-size="5.8" fill="#555" textLength="145" lengthAdjust="spacingAndGlyphs">How many circles are there ? (tick the correct answer).</text><text x="793" y="462.4" font-size="5.8" fill="#555" textLength="156.3" lengthAdjust="spacingAndGlyphs">How many pentagons are there ? (tick the correct answer).</text><rect x="616.9" y="231.3" width="163.8" height="94.2" fill="#fff" stroke="#a5d6f2" stroke-width="1.4"/><rect x="786.6" y="231.3" width="164.6" height="94.2" fill="#fff" stroke="#d9d22e" stroke-width="1.4"/><rect x="616.9" y="350" width="163.8" height="92.8" fill="#fff" stroke="#f6b59e" stroke-width="1.4"/><rect x="786.6" y="350" width="164.6" height="92.8" fill="#fff" stroke="#b0a9de" stroke-width="1.4"/><rect x="616.8" y="468.1" width="163.8" height="92.7" fill="#fff" stroke="#a9d29a" stroke-width="1.4"/><rect x="786.6" y="468.1" width="164.3" height="92.7" fill="#fff" stroke="#e76fbb" stroke-width="1.1"/><g stroke-linecap="round" stroke-linejoin="round"><path d="M629.5 225 L626.5 228.5 L621.5 227.2 M634.6 225.5 L635.5 230.5 L633.6 232.2" fill="none" stroke="#444" stroke-width=".7"/><circle cx="621.2" cy="227.6" r="1.4" fill="#7b6fb0" stroke="#444" stroke-width=".4"/><circle cx="633.6" cy="232.6" r="1.4" fill="#7b6fb0" stroke="#444" stroke-width=".4"/><path d="M628 210 Q621.5 213 621.5 217.5 L624 219" fill="none" stroke="#444" stroke-width=".7"/><circle cx="623.6" cy="219.4" r="1.9" fill="#fff" stroke="#444" stroke-width=".5"/><path d="M637 209.5 Q646 209 650 204" fill="none" stroke="#444" stroke-width=".7"/><circle cx="651.5" cy="202.6" r="3" fill="#fff" stroke="#444" stroke-width=".6"/><path d="M650 202 Q652 200.8 653.3 202.6 M650.4 203.8 Q652 203 653 204.2" fill="none" stroke="#444" stroke-width=".5"/><path d="M628.2 208.8 L636.8 208.8 L637.4 220 L627.6 220 Z" fill="#f0604f" stroke="#b8483a" stroke-width=".4"/><path d="M627.2 219.8 L637.8 219.8 L638.4 225.8 L633.4 225.8 L632.6 222.8 L631.6 225.4 L626.6 225 Z" fill="#82a536" stroke="#5e7c22" stroke-width=".4"/><ellipse cx="618.4" cy="196.4" rx="2" ry="2.6" fill="#fff" stroke="#444" stroke-width=".5"/><ellipse cx="650" cy="193.8" rx="1.9" ry="2.6" fill="#fff" stroke="#444" stroke-width=".5"/><ellipse cx="634.2" cy="196.2" rx="14.4" ry="12.6" fill="#fbe3dc" stroke="#444" stroke-width=".6"/><ellipse cx="626" cy="199.5" rx="2.4" ry="1.8" fill="#f6a596"/><ellipse cx="643.4" cy="198.6" rx="2.4" ry="1.8" fill="#f6a596"/><circle cx="628.8" cy="196.8" r="1" fill="#222"/><circle cx="639.6" cy="196.6" r="1" fill="#222"/><path d="M631.2 201 L633.4 203.6 L635.8 200.6" fill="none" stroke="#333" stroke-width=".6"/><path d="M620 195.5 Q617.5 184 630 179.5 L637.2 177.4 L636.4 180 L643.6 180.6 L642 182.4 Q650.5 186 648.4 194 L646 189.6 L643.6 192.4 L640 187.4 L635.6 191.6 L632.6 188.4 L629.4 193 L626 190.4 L623.4 194.6 L622 192.4 Z" fill="#e78b13" stroke="#a55c08" stroke-width=".4"/></g><rect x="625.6" y="243.2" width="16.4" height="15.8" fill="#bcdcf5" stroke="#3f8fc9" stroke-width="0.8"/><polygon points="660.2,255.2 662.8,261.4 669.5,262 664.5,266.4 666,272.9 660.2,269.5 654.4,272.9 655.9,266.4 650.9,262 657.6,261.4" fill="#ffe50f" stroke="#f3c21c" stroke-width="0.7" stroke-linejoin="round"/><rect x="696.3" y="242.5" width="16.4" height="15.8" fill="#f6aa98" stroke="#e9584a" stroke-width="0.8"/><polygon points="740,246.7 753,256.5 735.9,264.6" fill="#ffe50f" stroke="#f3c21c" stroke-width="0.8" stroke-linejoin="round"/><circle cx="698" cy="275" r="6" fill="#a193d2" stroke="#7d6cc0" stroke-width="0.8"/><rect x="632.9" y="283.8" width="16.1" height="16.2" fill="#b9d9b2" stroke="#7dba6c" stroke-width="0.8"/><polygon points="671.8,287 688.2,290.1 671,295.7" fill="#a9d5f2" stroke="#2f86c2" stroke-width="0.8" stroke-linejoin="round"/><circle cx="726.7" cy="288" r="6" fill="#b9d9b2" stroke="#7dba6c" stroke-width="0.8"/><rect x="755" y="276.5" width="16" height="16.1" fill="#f6aa98" stroke="#e9584a" stroke-width="0.8"/><circle cx="650.4" cy="312.5" r="5.6" fill="#f6aa98" stroke="#e9584a" stroke-width="0.8"/><rect x="692" y="303.8" width="17" height="16.2" fill="#b9d9b2" stroke="#7dba6c" stroke-width="0.8"/><polygon points="740,302.7 752,311.5 735.5,320.2" fill="#ffe50f" stroke="#f3c21c" stroke-width="0.8" stroke-linejoin="round"/><rect x="796.8" y="243.2" width="16.1" height="15.8" fill="#bcdcf5" stroke="#3f8fc9" stroke-width="0.8"/><circle cx="847.9" cy="249.5" r="5.8" fill="#a193d2" stroke="#7d6cc0" stroke-width="0.8"/><rect x="867.5" y="242.5" width="16.5" height="15.8" fill="#f6aa98" stroke="#e9584a" stroke-width="0.8"/><polygon points="911,246.7 923.9,255.5 906.7,265.3" fill="#ffe50f" stroke="#f3c21c" stroke-width="0.8" stroke-linejoin="round"/><circle cx="936.1" cy="246.7" r="5.8" fill="#b9d9b2" stroke="#7dba6c" stroke-width="0.8"/><polygon points="831.1,255.2 833.7,261.4 840.4,262 835.4,266.4 836.9,272.9 831.1,269.5 825.3,272.9 826.8,266.4 821.8,262 828.5,261.4" fill="#ffe50f" stroke="#f3c21c" stroke-width="0.7" stroke-linejoin="round"/><circle cx="893.8" cy="270.9" r="5.8" fill="#f6aa98" stroke="#e9584a" stroke-width="0.8"/><circle cx="868.9" cy="280.3" r="5.8" fill="#a193d2" stroke="#7d6cc0" stroke-width="0.8"/><rect x="923.2" y="272.6" width="16.4" height="16.1" fill="#f6aa98" stroke="#e9584a" stroke-width="0.8"/><rect x="804.1" y="282.4" width="16.1" height="16.1" fill="#b9d9b2" stroke="#7dba6c" stroke-width="0.8"/><polygon points="837,287 853.5,290.1 836.3,295.7" fill="#a9d5f2" stroke="#2f86c2" stroke-width="0.8" stroke-linejoin="round"/><circle cx="897.6" cy="295.7" r="5.8" fill="#b9d9b2" stroke="#7dba6c" stroke-width="0.8"/><polygon points="796,309 812.5,313.2 795,318.8" fill="#a9d5f2" stroke="#2f86c2" stroke-width="0.8" stroke-linejoin="round"/><circle cx="826.9" cy="313.9" r="5.8" fill="#f6aa98" stroke="#e9584a" stroke-width="0.8"/><rect x="863.3" y="303.8" width="16.5" height="16.2" fill="#b9d9b2" stroke="#7dba6c" stroke-width="0.8"/><polygon points="911,302.7 922.8,311.5 906.4,320.2" fill="#ffe50f" stroke="#f3c21c" stroke-width="0.8" stroke-linejoin="round"/><rect x="927.4" y="303.8" width="16.1" height="15.7" fill="#bcdcf5" stroke="#3f8fc9" stroke-width="0.8"/><rect x="625.6" y="358.8" width="16.4" height="15.7" fill="#bcdcf5" stroke="#3f8fc9" stroke-width="0.8"/><circle cx="677" cy="365.8" r="5.8" fill="#a193d2" stroke="#7d6cc0" stroke-width="0.8"/><rect x="696.3" y="358" width="16.4" height="15.8" fill="#f6aa98" stroke="#e9584a" stroke-width="0.8"/><polygon points="740,362.6 753,371.4 735.9,380.8" fill="#ffe50f" stroke="#f3c21c" stroke-width="0.8" stroke-linejoin="round"/><circle cx="764.6" cy="362.6" r="5.8" fill="#b9d9b2" stroke="#7dba6c" stroke-width="0.8"/><polygon points="660.2,371.4 662.8,377.6 669.5,378.2 664.5,382.6 666,389.1 660.2,385.7 654.4,389.1 655.9,382.6 650.9,378.2 657.6,377.6" fill="#ffe50f" stroke="#f3c21c" stroke-width="0.7" stroke-linejoin="round"/><circle cx="722.5" cy="386.8" r="5.8" fill="#f6aa98" stroke="#e9584a" stroke-width="0.8"/><circle cx="698" cy="396.6" r="5.8" fill="#a193d2" stroke="#7d6cc0" stroke-width="0.8"/><rect x="752.3" y="388.5" width="16.5" height="16.1" fill="#f6aa98" stroke="#e9584a" stroke-width="0.8"/><rect x="632.9" y="398" width="16.1" height="16" fill="#b9d9b2" stroke="#7dba6c" stroke-width="0.8"/><polygon points="666.5,401.1 683,406 664.8,411.3" fill="#a9d5f2" stroke="#2f86c2" stroke-width="0.8" stroke-linejoin="round"/><circle cx="726.7" cy="411.3" r="5.8" fill="#b9d9b2" stroke="#7dba6c" stroke-width="0.8"/><polygon points="624.5,424.6 642,428.8 623.8,434.4" fill="#a9d5f2" stroke="#2f86c2" stroke-width="0.8" stroke-linejoin="round"/><circle cx="656" cy="429.1" r="5.8" fill="#f6aa98" stroke="#e9584a" stroke-width="0.8"/><rect x="692" y="419.3" width="17" height="16.1" fill="#b9d9b2" stroke="#7dba6c" stroke-width="0.8"/><polygon points="740,417.6 752,427 735.5,436.1" fill="#ffe50f" stroke="#f3c21c" stroke-width="0.8" stroke-linejoin="round"/><rect x="756.9" y="419.3" width="16.1" height="15.7" fill="#bcdcf5" stroke="#3f8fc9" stroke-width="0.8"/><rect x="792.9" y="355.3" width="13.7" height="13.3" fill="#bcdcf5" stroke="#3f8fc9" stroke-width="0.8"/><circle cx="830.7" cy="361.9" r="4.7" fill="#a193d2" stroke="#7d6cc0" stroke-width="0.8"/><rect x="846.1" y="358.4" width="13.4" height="13.3" fill="#f6aa98" stroke="#e9584a" stroke-width="0.8"/><polygon points="879,351.6 881.1,356.4 886.2,356.9 882.3,360.3 883.5,365.3 879,362.7 874.5,365.3 875.7,360.3 871.8,356.9 876.9,356.4" fill="#a9d5f2" stroke="#2f86c2" stroke-width="0.7" stroke-linejoin="round"/><polygon points="893.4,361.6 902.9,368.6 889.2,376.3" fill="#ffe50f" stroke="#f3c21c" stroke-width="0.8" stroke-linejoin="round"/><circle cx="869.6" cy="372.8" r="4.7" fill="#b9d9b2" stroke="#7dba6c" stroke-width="0.8"/><polygon points="809,370.2 810.9,374.7 815.8,375.2 812.1,378.4 813.2,383.2 809,380.7 804.8,383.2 805.9,378.4 802.2,375.2 807.1,374.7" fill="#ffe50f" stroke="#f3c21c" stroke-width="0.7" stroke-linejoin="round"/><polygon points="830,378 832,382.6 837,383.1 833.2,386.5 834.3,391.4 830,388.8 825.7,391.4 826.8,386.5 823,383.1 828,382.6" fill="#9789c9" stroke="#6a59aa" stroke-width="0.7" stroke-linejoin="round"/><circle cx="847.9" cy="391.7" r="4.7" fill="#a193d2" stroke="#7d6cc0" stroke-width="0.8"/><circle cx="865" cy="387.8" r="4.7" fill="#f6aa98" stroke="#e9584a" stroke-width="0.8"/><rect x="884" y="383.3" width="13.6" height="13.3" fill="#f6aa98" stroke="#e9584a" stroke-width="0.8"/><rect x="798.2" y="390.3" width="13.3" height="13.3" fill="#b9d9b2" stroke="#7dba6c" stroke-width="0.8"/><polygon points="823,401.1 837.4,404.3 823,409.5" fill="#a9d5f2" stroke="#2f86c2" stroke-width="0.8" stroke-linejoin="round"/><rect x="843" y="406" width="13.7" height="13.7" fill="#b9d9b2" stroke="#7dba6c" stroke-width="0.8"/><polygon points="871.4,402.9 881.2,409.9 867.2,418.3" fill="#9789c9" stroke="#6a59aa" stroke-width="0.8" stroke-linejoin="round"/><circle cx="889.2" cy="410.6" r="4.7" fill="#b9d9b2" stroke="#7dba6c" stroke-width="0.8"/><polygon points="796,418.6 810,422.8 795,428.1" fill="#a9d5f2" stroke="#2f86c2" stroke-width="0.8" stroke-linejoin="round"/><circle cx="821.3" cy="423.2" r="4.7" fill="#f6aa98" stroke="#e9584a" stroke-width="0.8"/><polygon points="839.1,419.5 841,424 845.9,424.5 842.2,427.7 843.3,432.5 839.1,430 834.9,432.5 836,427.7 832.3,424.5 837.2,424" fill="#a9d5f2" stroke="#2f86c2" stroke-width="0.7" stroke-linejoin="round"/><polygon points="869.6,421.3 871.5,425.8 876.4,426.3 872.7,429.5 873.8,434.3 869.6,431.8 865.4,434.3 866.5,429.5 862.8,426.3 867.7,425.8" fill="#ffe50f" stroke="#f3c21c" stroke-width="0.7" stroke-linejoin="round"/><rect x="880.8" y="423.9" width="13.3" height="13.6" fill="#bcdcf5" stroke="#3f8fc9" stroke-width="0.8"/><polygon points="809.4,426.9 811.3,431.4 816.2,431.9 812.5,435.1 813.6,439.9 809.4,437.4 805.2,439.9 806.3,435.1 802.6,431.9 807.5,431.4" fill="#a9d2a2" stroke="#68a95f" stroke-width="0.7" stroke-linejoin="round"/><line x1="906.6" y1="351.5" x2="906.6" y2="442.1" stroke="#d9d5f0" stroke-width="1.1" stroke-dasharray="6.5 4"/><line x1="929" y1="350.7" x2="929" y2="442.1" stroke="#b0a9de" stroke-width="0.6"/><circle cx="929" cy="365" r="8.9" fill="#fff" stroke="#a8a0da" stroke-width="0.8"/><text x="929" y="367" font-size="5.6" fill="#555" text-anchor="middle">seven</text><circle cx="929" cy="396.6" r="8.9" fill="#fff" stroke="#a8a0da" stroke-width="0.8"/><text x="929" y="398.6" font-size="5.6" fill="#555" text-anchor="middle">six</text><circle cx="929" cy="428" r="8.9" fill="#fff" stroke="#a8a0da" stroke-width="0.8"/><text x="929" y="430" font-size="5.6" fill="#555" text-anchor="middle">three</text><rect x="624.3" y="474.1" width="13.5" height="13.6" fill="#bcdcf5" stroke="#3f8fc9" stroke-width="0.8"/><circle cx="661.8" cy="480.8" r="5" fill="#a193d2" stroke="#7d6cc0" stroke-width="0.8"/><rect x="676.6" y="477.3" width="14.2" height="13.2" fill="#f6aa98" stroke="#e9584a" stroke-width="0.8"/><polygon points="710.3,470.9 712.3,475.5 717.3,476 713.5,479.4 714.6,484.3 710.3,481.7 706,484.3 707.1,479.4 703.3,476 708.3,475.5" fill="#a9d5f2" stroke="#2f86c2" stroke-width="0.7" stroke-linejoin="round"/><polygon points="724.5,479.8 733.7,487.4 719.8,495.3" fill="#ffe50f" stroke="#f3c21c" stroke-width="0.8" stroke-linejoin="round"/><circle cx="700.9" cy="491.8" r="5" fill="#b9d9b2" stroke="#7dba6c" stroke-width="0.8"/><circle cx="625.9" cy="497.8" r="5" fill="#a193d2" stroke="#7d6cc0" stroke-width="0.8"/><polygon points="640,489.1 641.9,493.6 646.8,494.1 643.1,497.3 644.2,502.1 640,499.6 635.8,502.1 636.9,497.3 633.2,494.1 638.1,493.6" fill="#ffe50f" stroke="#f3c21c" stroke-width="0.7" stroke-linejoin="round"/><polygon points="661.2,496.5 663.2,501.1 668.2,501.6 664.4,505 665.5,509.9 661.2,507.3 656.9,509.9 658,505 654.2,501.6 659.2,501.1" fill="#9789c9" stroke="#6a59aa" stroke-width="0.7" stroke-linejoin="round"/><circle cx="678.8" cy="510.1" r="5" fill="#a193d2" stroke="#7d6cc0" stroke-width="0.8"/><circle cx="695.8" cy="506.6" r="5" fill="#f6aa98" stroke="#e9584a" stroke-width="0.8"/><rect x="715.7" y="502.2" width="13.2" height="13.2" fill="#f6aa98" stroke="#e9584a" stroke-width="0.8"/><rect x="629.3" y="509.1" width="13.3" height="13.3" fill="#b9d9b2" stroke="#7dba6c" stroke-width="0.8"/><polygon points="654.2,519.5 668.7,523 653.6,527.7" fill="#a9d5f2" stroke="#2f86c2" stroke-width="0.8" stroke-linejoin="round"/><circle cx="624.6" cy="528" r="5" fill="#f6aa98" stroke="#e9584a" stroke-width="0.8"/><rect x="674.4" y="525.2" width="13.2" height="13.2" fill="#b9d9b2" stroke="#7dba6c" stroke-width="0.8"/><polygon points="701.5,522 712.2,529.3 698,537.2" fill="#9789c9" stroke="#6a59aa" stroke-width="0.8" stroke-linejoin="round"/><circle cx="720.7" cy="529.9" r="5" fill="#b9d9b2" stroke="#7dba6c" stroke-width="0.8"/><polygon points="627.7,537.5 641,541 625.9,546.3" fill="#a9d5f2" stroke="#2f86c2" stroke-width="0.8" stroke-linejoin="round"/><circle cx="653" cy="541.6" r="5" fill="#f6aa98" stroke="#e9584a" stroke-width="0.8"/><polygon points="670,537.6 671.9,542.1 676.8,542.6 673.1,545.8 674.2,550.6 670,548.1 665.8,550.6 666.9,545.8 663.2,542.6 668.1,542.1" fill="#a9d5f2" stroke="#2f86c2" stroke-width="0.7" stroke-linejoin="round"/><polygon points="700.6,540.8 702.5,545.3 707.4,545.8 703.7,549 704.8,553.8 700.6,551.3 696.4,553.8 697.5,549 693.8,545.8 698.7,545.3" fill="#ffe50f" stroke="#f3c21c" stroke-width="0.7" stroke-linejoin="round"/><rect x="712.5" y="542.2" width="13.3" height="13.3" fill="#bcdcf5" stroke="#3f8fc9" stroke-width="0.8"/><polygon points="640,545.5 641.9,550 646.8,550.5 643.1,553.7 644.2,558.5 640,556 635.8,558.5 636.9,553.7 633.2,550.5 638.1,550" fill="#a9d2a2" stroke="#68a95f" stroke-width="0.7" stroke-linejoin="round"/><line x1="737.5" y1="469.5" x2="737.5" y2="560.1" stroke="#c4e0ba" stroke-width="1.1" stroke-dasharray="6.5 4"/><line x1="759.8" y1="468.8" x2="759.8" y2="560.1" stroke="#a9d29a" stroke-width="0.6"/><circle cx="759.8" cy="483.6" r="8.8" fill="#fff" stroke="#9fcd90" stroke-width="0.8"/><text x="759.8" y="485.6" font-size="5.6" fill="#555" text-anchor="middle">nine</text><circle cx="759.8" cy="515.4" r="8.8" fill="#fff" stroke="#9fcd90" stroke-width="0.8"/><text x="759.8" y="517.4" font-size="5.6" fill="#555" text-anchor="middle">seven</text><circle cx="759.8" cy="547" r="8.8" fill="#fff" stroke="#9fcd90" stroke-width="0.8"/><text x="759.8" y="549" font-size="5.6" fill="#555" text-anchor="middle">eight</text><rect x="795.1" y="474.1" width="13.5" height="13.6" fill="#bcdcf5" stroke="#3f8fc9" stroke-width="0.8"/><circle cx="832.6" cy="480.8" r="5" fill="#a193d2" stroke="#7d6cc0" stroke-width="0.8"/><polygon points="849.6,479.6 856.1,484.3 853.6,491.9 845.6,491.9 843.1,484.3" fill="#fbd0b8" stroke="#f2a487" stroke-width="0.7" stroke-linejoin="round"/><polygon points="881.1,470.9 883.1,475.5 888.1,476 884.3,479.4 885.4,484.3 881.1,481.7 876.8,484.3 877.9,479.4 874.1,476 879.1,475.5" fill="#a9d5f2" stroke="#2f86c2" stroke-width="0.7" stroke-linejoin="round"/><polygon points="895.3,479.8 904.5,487.4 890.6,495.3" fill="#ffe50f" stroke="#f3c21c" stroke-width="0.8" stroke-linejoin="round"/><circle cx="871.7" cy="491.8" r="5" fill="#b9d9b2" stroke="#7dba6c" stroke-width="0.8"/><circle cx="796.7" cy="497.8" r="5" fill="#a193d2" stroke="#7d6cc0" stroke-width="0.8"/><polygon points="810.8,489.1 812.7,493.6 817.6,494.1 813.9,497.3 815,502.1 810.8,499.6 806.6,502.1 807.7,497.3 804,494.1 808.9,493.6" fill="#ffe50f" stroke="#f3c21c" stroke-width="0.7" stroke-linejoin="round"/><polygon points="832,496.5 834,501.1 839,501.6 835.2,505 836.3,509.9 832,507.3 827.7,509.9 828.8,505 825,501.6 830,501.1" fill="#9789c9" stroke="#6a59aa" stroke-width="0.7" stroke-linejoin="round"/><circle cx="849.6" cy="510.1" r="5" fill="#a193d2" stroke="#7d6cc0" stroke-width="0.8"/><circle cx="866.6" cy="506.6" r="5" fill="#f6aa98" stroke="#e9584a" stroke-width="0.8"/><polygon points="890.6,502 897.4,507 894.8,515 886.4,515 883.8,507" fill="#a9dcf7" stroke="#5cb8ea" stroke-width="0.7" stroke-linejoin="round"/><polygon points="809.2,508.2 815.7,512.9 813.2,520.5 805.2,520.5 802.7,512.9" fill="#e9a0cf" stroke="#c8409a" stroke-width="0.7" stroke-linejoin="round"/><polygon points="825,519.5 839.5,523 824.4,527.7" fill="#a9d5f2" stroke="#2f86c2" stroke-width="0.8" stroke-linejoin="round"/><circle cx="795.4" cy="528" r="5" fill="#f6aa98" stroke="#e9584a" stroke-width="0.8"/><rect x="845.2" y="525.2" width="13.2" height="13.2" fill="#b9d9b2" stroke="#7dba6c" stroke-width="0.8"/><polygon points="872.3,522 883,529.3 868.8,537.2" fill="#9789c9" stroke="#6a59aa" stroke-width="0.8" stroke-linejoin="round"/><circle cx="891.5" cy="529.9" r="5" fill="#b9d9b2" stroke="#7dba6c" stroke-width="0.8"/><polygon points="798.5,537.5 811.8,541 796.7,546.3" fill="#a9d5f2" stroke="#2f86c2" stroke-width="0.8" stroke-linejoin="round"/><circle cx="823.8" cy="541.6" r="5" fill="#f6aa98" stroke="#e9584a" stroke-width="0.8"/><polygon points="840.8,537.6 842.7,542.1 847.6,542.6 843.9,545.8 845,550.6 840.8,548.1 836.6,550.6 837.7,545.8 834,542.6 838.9,542.1" fill="#a9d5f2" stroke="#2f86c2" stroke-width="0.7" stroke-linejoin="round"/><polygon points="871.4,540.8 873.3,545.3 878.2,545.8 874.5,549 875.6,553.8 871.4,551.3 867.2,553.8 868.3,549 864.6,545.8 869.5,545.3" fill="#ffe50f" stroke="#f3c21c" stroke-width="0.7" stroke-linejoin="round"/><rect x="883.3" y="542.2" width="13.3" height="13.3" fill="#bcdcf5" stroke="#3f8fc9" stroke-width="0.8"/><polygon points="810.8,545.5 812.7,550 817.6,550.5 813.9,553.7 815,558.5 810.8,556 806.6,558.5 807.7,553.7 804,550.5 808.9,550" fill="#a9d2a2" stroke="#68a95f" stroke-width="0.7" stroke-linejoin="round"/><line x1="907.7" y1="469.5" x2="907.7" y2="560.1" stroke="#c4e0ba" stroke-width="1.1" stroke-dasharray="6.5 4"/><line x1="930.4" y1="468.8" x2="930.4" y2="560.1" stroke="#e05aae" stroke-width="0.6"/><circle cx="930.4" cy="483.6" r="8.8" fill="#fff" stroke="#e05aae" stroke-width="0.8"/><text x="930.4" y="485.6" font-size="5.6" fill="#555" text-anchor="middle">three</text><circle cx="930.4" cy="515.4" r="8.8" fill="#fff" stroke="#e05aae" stroke-width="0.8"/><text x="930.4" y="517.4" font-size="5.6" fill="#555" text-anchor="middle">four</text><circle cx="930.4" cy="547" r="8.8" fill="#fff" stroke="#e05aae" stroke-width="0.8"/><text x="930.4" y="549" font-size="5.6" fill="#555" text-anchor="middle">five</text><line x1="606" y1="579.5" x2="838" y2="579.5" stroke="#dcdcdc" stroke-width="1"/><line x1="926" y1="579.5" x2="958" y2="579.5" stroke="#dcdcdc" stroke-width="1"/><text x="841.5" y="580.9" font-size="6" fill="#666" textLength="81.5" lengthAdjust="spacingAndGlyphs">© www.mathskills4kids.com</text></svg></div>
<svg class="wm" width="1200" height="628" viewBox="0 0 1200 628" font-family="'Liberation Sans', sans-serif"><text x="964.6" y="612.2" font-size="21.6" font-family="DejaVu Sans, Liberation Sans, sans-serif" fill="#bd77ca" textLength="213" lengthAdjust="spacingAndGlyphs">mathskills4kids.com</text></svg>
</body></html>
